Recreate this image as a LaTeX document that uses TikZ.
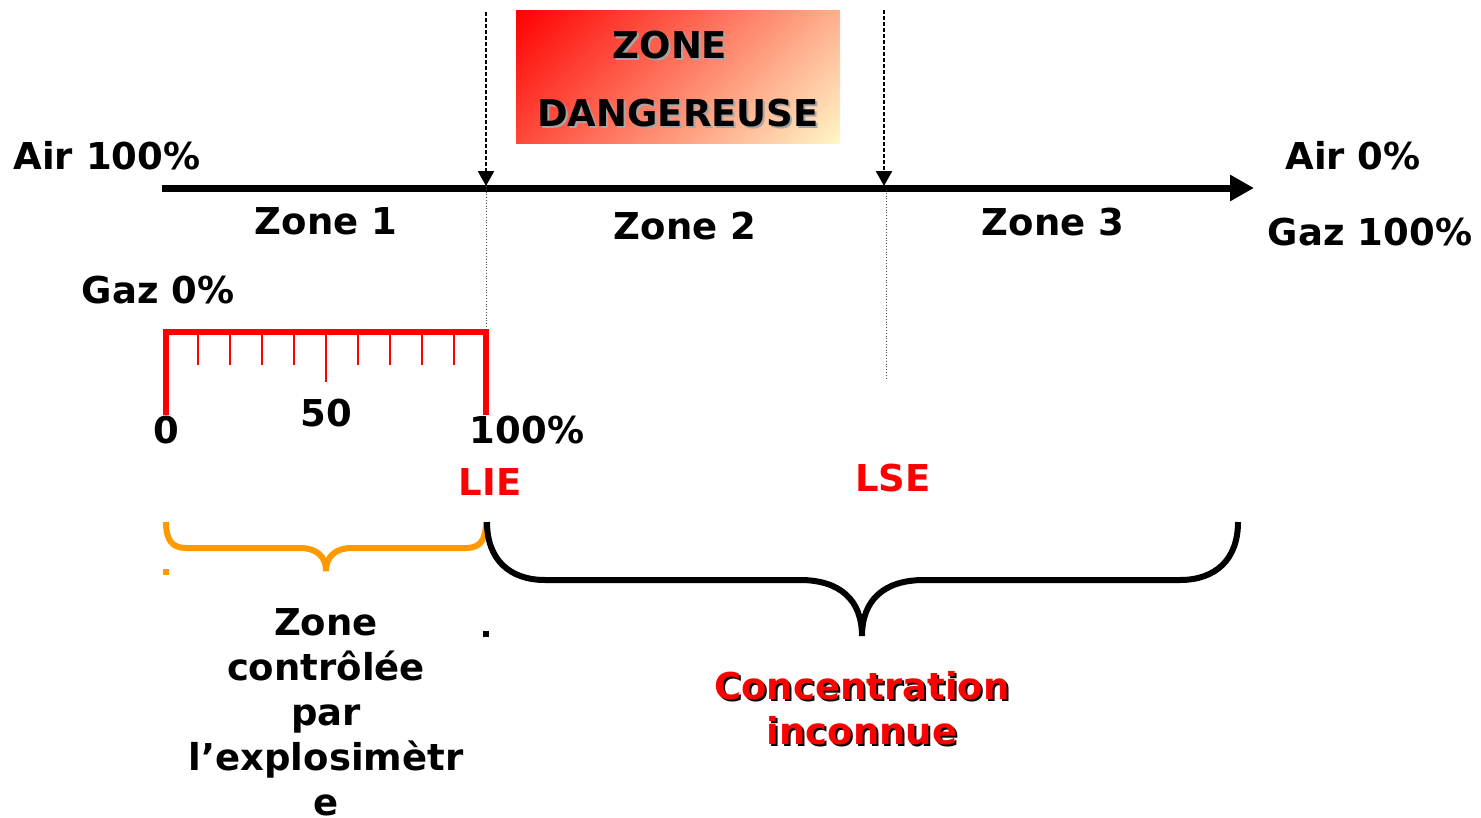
\documentclass[tikz,border=0pt]{standalone}
\usepackage{fontspec}
\setmainfont{DejaVu Sans}
\usetikzlibrary{arrows.meta,shadings}
\definecolor{cream}{RGB}{255,247,200}
\definecolor{braceorange}{RGB}{255,153,0}
% text with a shifted copy behind it
\newcommand\shadowed[2]{\makebox[0pt][l]{\hspace{2pt}\raisebox{-2pt}{\textcolor{#1}{#2}}}#2}
\begin{document}
\begin{tikzpicture}[x=1pt, y=-1pt, >={Triangle[length=15pt,width=16pt]},
  lbl/.style={font=\fontsize{37}{45}\selectfont\bfseries, inner sep=0pt},
  redlbl/.style={lbl, text=red},
  guide/.style={dash pattern=on 4pt off 2pt, line width=2.4pt},
  thinguide/.style={dotted, line width=0.8pt, gray!60!black},
  ruler/.style={red, line width=6pt, line join=miter},
  tick/.style={red, line width=2.7pt},
  bracepath/.style={line width=6pt, line cap=butt}]
  \useasboundingbox (0,0) rectangle (1481,817);
  % dangerous zone box
  \node [minimum width=324pt, minimum height=133pt,
    shade, upper left=red, upper right=cream!71!red,
    lower left=cream!29!red, lower right=cream] (danger) at (678,76.5) {};
  \node [lbl, align=center, font=\fontsize{37}{68}\selectfont\bfseries]
    (dangertext) at (678,80)
    {\shadowed{gray!70}{ZONE}\hspace*{16pt}\\\shadowed{gray!70}{DANGEREUSE}};
  % main axis
  \coordinate (axisL) at (162,188);
  \coordinate (axisR) at (1254,188);
  \draw [line width=7pt, -{Triangle[length=24pt,width=25pt]}] (axisL) -- (axisR);
  % limits
  \coordinate (lieTop) at (486,12);  \coordinate (lieAxis) at (486,186);
  \coordinate (lieLow) at (486,330);
  \coordinate (lseTop) at (884,10);  \coordinate (lseAxis) at (884,186);
  \coordinate (lseMid) at (886,190); \coordinate (lseLow) at (886,380);
  \draw [guide, ->] (lieTop) -- (lieAxis);
  \draw [guide, ->] (lseTop) -- (lseAxis);
  \draw [thinguide] (lieAxis) -- (lieLow);
  \draw [thinguide] (lseMid) -- (lseLow);
  % labels along the axis
  \node [lbl] (air100) at (107,156) {Air 100\%};
  \node [lbl] (air0)   at (1353,156) {Air 0\%};
  \node [lbl] (gaz100) at (1370,232) {Gaz 100\%};
  \node [lbl] (zone1)  at (326,221) {Zone 1};
  \node [lbl] (zone2)  at (685,226) {Zone 2};
  \node [lbl] (zone3)  at (1053,222) {Zone 3};
  \node [lbl] (gaz0)   at (158,290) {Gaz 0\%};
  % explosimeter scale
  \draw [ruler] (166,415) -- (166,332) -- (486,332) -- (486,415);
  \foreach \i [evaluate={\len=(\i==5 ? 50 : 33);}] in {1,...,9}
    \draw [tick] (166+32*\i,332) -- ++(0,\len);
  \node [lbl] (s0)   at (166,430) {0};
  \node [lbl] (s50)  at (326,413) {50};
  \node [lbl] (s100) at (527,430) {100\%};
  \node [redlbl] (lie) at (490,482) {LIE};
  \node [redlbl] (lse) at (893,478) {LSE};
  % braces
  \draw [bracepath, braceorange] (166,522) .. controls (166,540) and (172,548) .. (186,548)
    -- (300,548) .. controls (316,548) and (326,556) .. (326,571)
    .. controls (326,556) and (336,548) .. (352,548) -- (466,548)
    .. controls (480,548) and (486,540) .. (486,522);
  \draw [bracepath] (487,522) .. controls (487,560) and (510,580) .. (545,580)
    -- (800,580) .. controls (840,580) and (862,600) .. (862,636)
    .. controls (862,600) and (884,580) .. (924,580) -- (1180,580)
    .. controls (1215,580) and (1238,560) .. (1238,522);
  \fill [braceorange] (163,569) rectangle ++(6,6);
  \fill (483,631) rectangle ++(6,6);
  % lower texts
  \node [lbl, align=center, anchor=north] (controlled) at (326,608)
    {Zone\\contrôlée\\par\\l’explosimètr\\e};
  \node [redlbl, align=center] (unknown) at (862,709)
    {\shadowed{black}{Concentration}\\\shadowed{black}{inconnue}};
\end{tikzpicture}
\end{document}
